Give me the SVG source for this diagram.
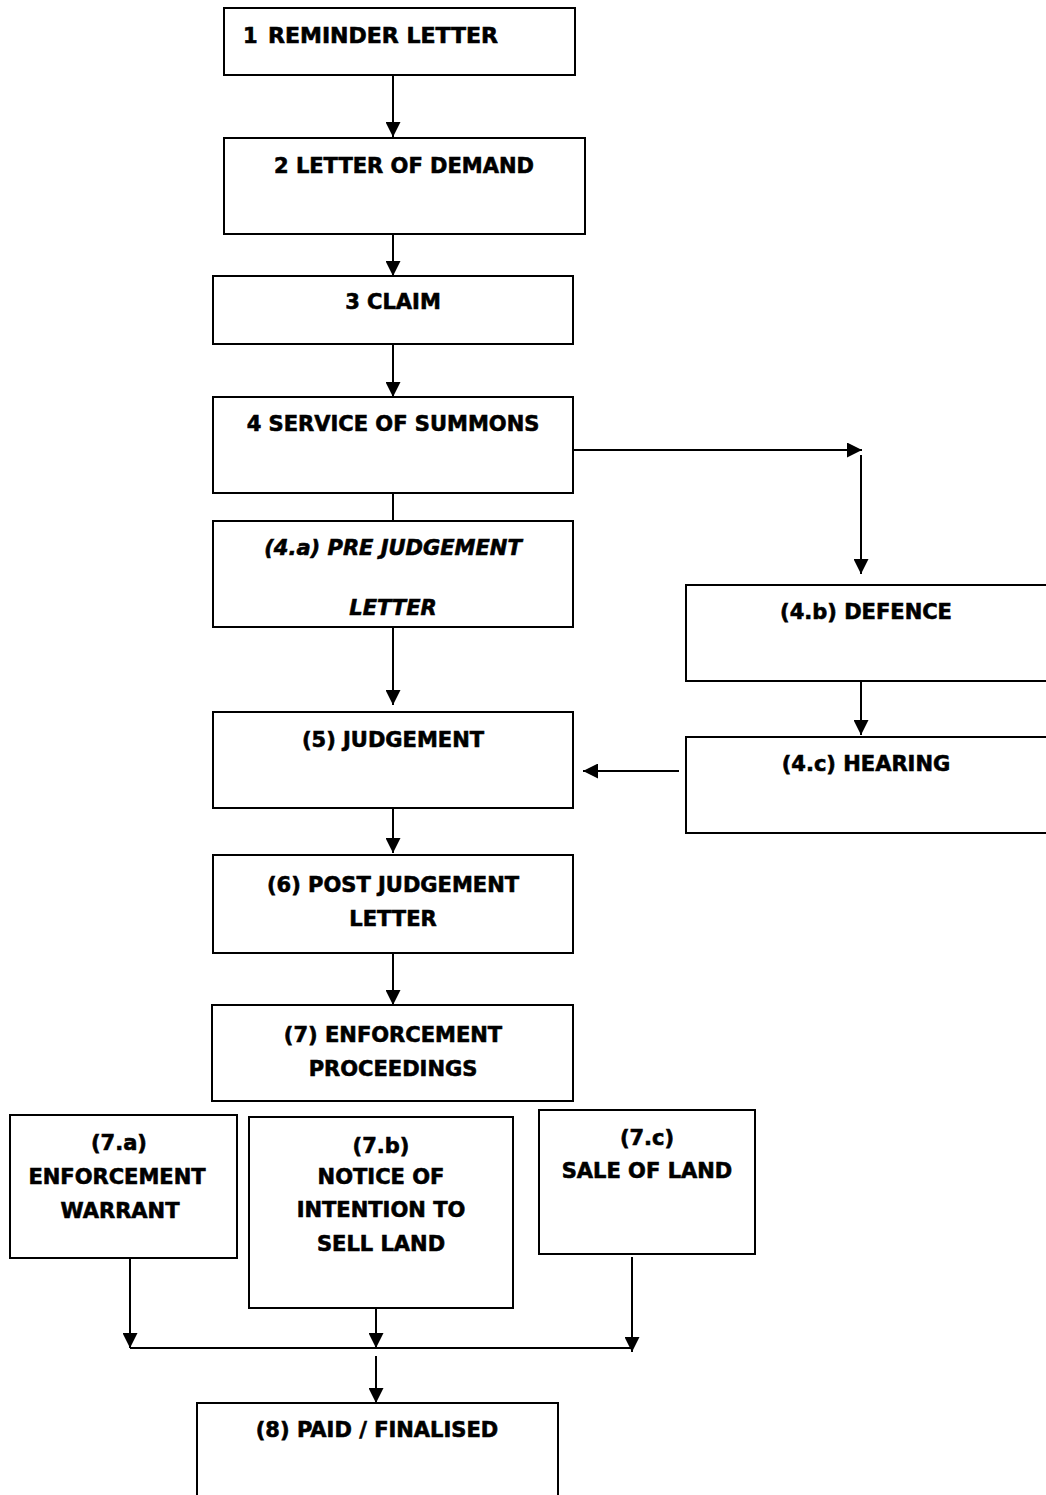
<svg xmlns="http://www.w3.org/2000/svg" width="1046" height="1495" viewBox="0 0 1046 1495">
<style>
.box{fill:#fff;stroke:#000;stroke-width:2}
.t{font-family:"DejaVu Sans","Liberation Sans",sans-serif;font-weight:bold;font-size:21px;fill:#000;stroke:#000;stroke-width:0.6;text-anchor:middle}
.i{font-style:italic}
.c{stroke:#000;stroke-width:2;fill:none}
</style>
<defs>
<marker id="ah" viewBox="0 0 15 15" refX="15" refY="7.5" markerWidth="15" markerHeight="15" markerUnits="userSpaceOnUse" orient="auto">
<path d="M0,0 L15,7.5 L0,15 z" fill="#000"/>
</marker>
</defs>
<rect width="1046" height="1495" fill="#fff"/>
<g id="connectors">
<line class="c" x1="393" y1="75" x2="393" y2="137" marker-end="url(#ah)"/>
<line class="c" x1="393" y1="234" x2="393" y2="276" marker-end="url(#ah)"/>
<line class="c" x1="393" y1="344" x2="393" y2="397" marker-end="url(#ah)"/>
<line class="c" x1="393" y1="494" x2="393" y2="521"/>
<line class="c" x1="573" y1="450" x2="862" y2="450" marker-end="url(#ah)"/>
<line class="c" x1="861" y1="455" x2="861" y2="574" marker-end="url(#ah)"/>
<line class="c" x1="393" y1="627" x2="393" y2="705" marker-end="url(#ah)"/>
<line class="c" x1="861" y1="681" x2="861" y2="735" marker-end="url(#ah)"/>
<line class="c" x1="679" y1="771" x2="583" y2="771" marker-end="url(#ah)"/>
<line class="c" x1="393" y1="808" x2="393" y2="853" marker-end="url(#ah)"/>
<line class="c" x1="393" y1="953" x2="393" y2="1005" marker-end="url(#ah)"/>
<line class="c" x1="130" y1="1255" x2="130" y2="1348" marker-end="url(#ah)"/>
<line class="c" x1="376" y1="1300" x2="376" y2="1348" marker-end="url(#ah)"/>
<line class="c" x1="632" y1="1257" x2="632" y2="1352" marker-end="url(#ah)"/>
<line class="c" x1="130" y1="1348" x2="632" y2="1348"/>
<line class="c" x1="376" y1="1356" x2="376" y2="1403" marker-end="url(#ah)"/>
</g>
<g id="n1"><rect class="box" x="224" y="8" width="351" height="67"/>
<text class="t" x="243" y="43" style="text-anchor:start">1</text><text class="t" x="268" y="43" style="text-anchor:start" textLength="230" lengthAdjust="spacingAndGlyphs">REMINDER LETTER</text></g>
<g id="n2"><rect class="box" x="224" y="138" width="361" height="96"/>
<text class="t" x="404" y="173">2 LETTER OF DEMAND</text></g>
<g id="n3"><rect class="box" x="213" y="276" width="360" height="68"/>
<text class="t" x="393" y="309">3 CLAIM</text></g>
<g id="n4"><rect class="box" x="213" y="397" width="360" height="96"/>
<text class="t" x="393" y="431">4 SERVICE OF SUMMONS</text></g>
<g id="n4a"><rect class="box" x="213" y="521" width="360" height="106"/>
<text class="t i" x="393" y="555">(4.a) PRE JUDGEMENT</text>
<text class="t i" x="393" y="615">LETTER</text></g>
<g id="n4b"><rect class="box" x="686" y="585" width="362" height="96"/>
<text class="t" x="866" y="619">(4.b) DEFENCE</text></g>
<g id="n5"><rect class="box" x="213" y="712" width="360" height="96"/>
<text class="t" x="393" y="747">(5) JUDGEMENT</text></g>
<g id="n4c"><rect class="box" x="686" y="737" width="362" height="96"/>
<text class="t" x="866" y="771">(4.c) HEARING</text></g>
<g id="n6"><rect class="box" x="213" y="855" width="360" height="98"/>
<text class="t" x="393" y="892">(6) POST JUDGEMENT</text>
<text class="t" x="393" y="926">LETTER</text></g>
<g id="n7"><rect class="box" x="212" y="1005" width="361" height="96"/>
<text class="t" x="393" y="1042">(7) ENFORCEMENT</text>
<text class="t" x="393" y="1076">PROCEEDINGS</text></g>
<g id="n7a"><rect class="box" x="10" y="1115" width="227" height="143"/>
<text class="t" x="119" y="1150">(7.a)</text>
<text class="t" x="117" y="1184">ENFORCEMENT</text>
<text class="t" x="120" y="1218">WARRANT</text></g>
<g id="n7b"><rect class="box" x="249" y="1117" width="264" height="191"/>
<text class="t" x="381" y="1153">(7.b)</text>
<text class="t" x="381" y="1184">NOTICE OF</text>
<text class="t" x="381" y="1217">INTENTION TO</text>
<text class="t" x="381" y="1251">SELL LAND</text></g>
<g id="n7c"><rect class="box" x="539" y="1110" width="216" height="144"/>
<text class="t" x="647" y="1145">(7.c)</text>
<text class="t" x="647" y="1178">SALE OF LAND</text></g>
<g id="n8"><rect class="box" x="197" y="1403" width="361" height="110"/>
<text class="t" x="377" y="1437">(8) PAID / FINALISED</text></g>
</svg>
